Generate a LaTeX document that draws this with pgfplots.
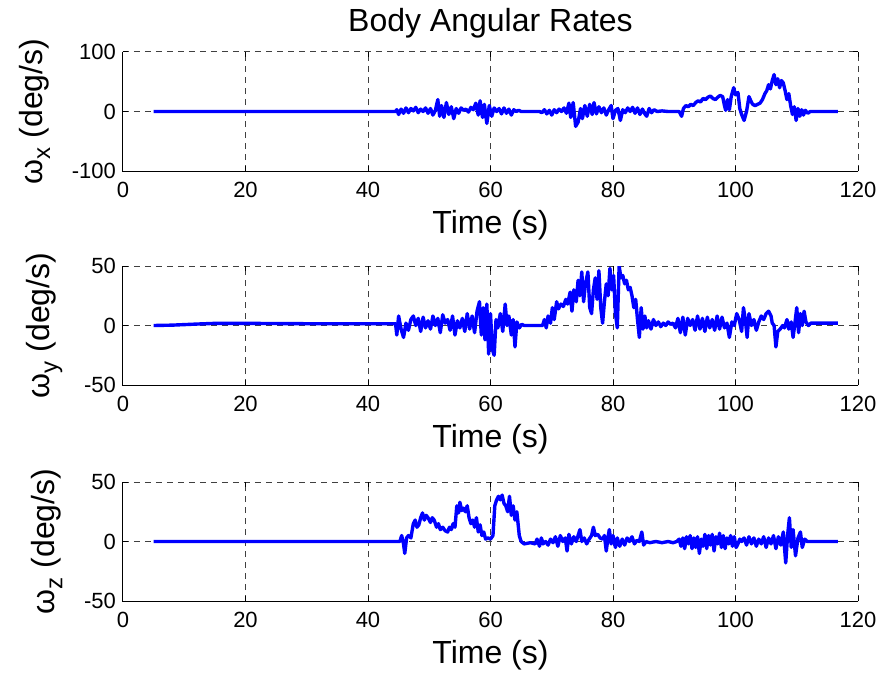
\documentclass[border=0pt]{standalone}
\usepackage{pgfplots}
\pgfplotsset{compat=1.18}
\usepackage{fontspec}
\setmainfont{Liberation Sans}
\pgfplotsset{
  myline/.style={color={rgb,255:red,0;green,0;blue,255}, line width=1.7pt, line join=round, no markers},
  myax/.style={
    scale only axis, width=367.5pt, height=59.5pt,
    xmin=0, xmax=120, xtick={0,20,40,60,80,100,120},
    grid=major,
    major grid style={black!75, dash pattern=on 3pt off 2.5pt, line width=0.5pt},
    tick align=inside, major tick length=2.5pt,
    tick style={black, line width=0.5pt},
    axis line style={draw=none},
    ticklabel style={font=\fontsize{11}{13}\selectfont},
    /pgf/number format/assume math mode=true,
    xlabel={Time (s)},
    every axis x label/.style={at={(0.5,0)}, anchor=base, yshift=-31pt, font=\fontsize{16}{19}\selectfont},
    ylabel style={font=\fontsize{16}{19}\selectfont, yshift=4pt},
    xticklabel style={anchor=base, yshift=-13pt},
    after end axis/.code={\draw[black, line width=0.5pt] (rel axis cs:0,1) -- (rel axis cs:0,0) -- (rel axis cs:1,0);},
  }
}
\begin{document}
\begin{tikzpicture}
\begin{axis}[myax, at={(0,0)}, anchor=north west,
  ymin=-100, ymax=100, ytick={-100,0,100},
  ylabel={ω\raisebox{-4pt}{\fontsize{12}{14}\selectfont x} (deg/s)},
  title={Body Angular Rates},
  every axis title/.style={at={(0.5,1)}, anchor=base, yshift=10.2pt, font=\fontsize{16}{19}\selectfont}]
\addplot[myline] coordinates {
(5,0)(44.5,0)(44.7,3)(45,-5)(45.4,4)(45.8,-3)(46.2,6)(46.6,-2)(47,5)(47.4,1)(47.8,7)(48.2,-2)(48.6,4)(49,0)(49.4,6)(49.8,-3)(50.2,5)(50.6,-6)(51,2)(51.4,20)(51.7,-8)(52,10)(52.4,-10)(52.8,15)(53.2,-5)(53.6,8)(54,-12)(54.4,5)(54.8,-3)(55.2,6)(55.6,2)(56,4)(56.4,-1)(56.8,7)(57.2,3)(57.6,14)(58,-6)(58.3,18)(58.7,-10)(59,12)(59.4,-20)(59.8,10)(60.2,-8)(60.6,6)(61,0)(61.4,5)(61.8,-4)(62.2,6)(62.6,-3)(63,4)(63.4,-6)(63.8,3)(64.2,0)(64.6,2)(65,0)(68,0)(68.4,-2)(68.8,3)(69.2,-4)(69.6,2)(70,-6)(70.4,3)(70.8,-2)(71.2,4)(71.6,0)(72,6)(72.4,-3)(72.8,14)(73.1,-10)(73.5,15)(73.9,-25)(74.3,-18)(74.7,5)(75,-12)(75.4,10)(75.8,-8)(76.2,12)(76.6,-5)(76.9,15)(77.3,-4)(77.7,8)(78.1,-2)(78.5,6)(78.9,-6)(79.3,3)(79.7,10)(80,-12)(80.4,2)(80.8,5)(81.2,-15)(81.6,3)(82,-2)(82.4,6)(82.8,0)(83.2,7)(83.6,-3)(84,6)(84.4,-5)(84.8,4)(85.2,-4)(85.5,-8)(85.9,5)(86.3,-2)(86.7,3)(87.2,0)(88,1)(89,0)(90,0)(90.8,0)(91.2,-8)(91.5,5)(91.9,10)(92.3,8)(92.7,12)(93.1,10)(93.5,15)(93.9,18)(94.3,16)(94.7,22)(95.1,20)(95.5,24)(95.9,26)(96.3,22)(96.7,20)(97.1,24)(97.5,27)(97.9,25)(98.2,10)(98.4,2)(98.7,20)(99,3)(99.3,25)(99.7,40)(100,28)(100.4,32)(100.7,5)(101,-5)(101.4,-15)(101.8,0)(102.2,25)(102.5,18)(102.8,12)(103.2,10)(103.6,12)(104,14)(104.4,20)(104.8,30)(105.1,35)(105.4,45)(105.7,38)(106,52)(106.3,62)(106.6,45)(106.9,55)(107.2,40)(107.5,52)(107.8,48)(108.1,35)(108.4,20)(108.7,30)(109,10)(109.3,-5)(109.6,8)(109.9,-15)(110.2,5)(110.5,-8)(110.8,3)(111.1,-6)(111.4,2)(111.8,-3)(112.2,0)(116.7,0)
};
\end{axis}
\begin{axis}[myax, at={(0,-107pt)}, anchor=north west,
  ymin=-50, ymax=50, ytick={-50,0,50},
  ylabel={ω\raisebox{-4pt}{\fontsize{12}{14}\selectfont y} (deg/s)}]
\addplot[myline] coordinates {
(5,0)(8,0.3)(12,1.2)(15,1.8)(20,1.8)(30,1.5)(40,1.5)(44.5,1.5)(44.7,-8)(45,8)(45.4,-3)(45.8,-10)(46.2,2)(46.6,-4)(47,5)(47.4,8)(47.8,0)(48.2,6)(48.6,-5)(49,7)(49.4,-2)(49.8,4)(50.2,-3)(50.6,8)(51,0)(51.4,6)(51.8,-6)(52.2,9)(52.6,2)(53,5)(53.4,-4)(53.8,8)(54.2,-8)(54.6,4)(55,-2)(55.4,6)(55.8,-5)(56.2,10)(56.6,-3)(57,8)(57.4,-6)(57.8,12)(58.2,20)(58.5,-8)(58.8,15)(59.1,-12)(59.4,18)(59.7,-24)(60,10)(60.3,-20)(60.6,-25)(60.9,5)(61.2,-2)(61.6,10)(62,-5)(62.4,18)(62.7,0)(63,8)(63.4,-8)(63.7,5)(64,-18)(64.3,3)(64.7,-2)(65.1,1)(65.5,0)(68.5,0)(68.8,5)(69.1,-2)(69.4,8)(69.8,2)(70.1,15)(70.4,5)(70.8,20)(71.1,14)(71.5,18)(71.9,16)(72.3,22)(72.6,18)(73,28)(73.3,12)(73.6,30)(74,20)(74.3,38)(74.6,25)(74.9,45)(75.2,20)(75.5,35)(75.9,45)(76.2,15)(76.5,10)(76.8,30)(77.1,40)(77.4,22)(77.7,46)(78,15)(78.3,2)(78.6,20)(78.9,35)(79.2,25)(79.5,48)(79.8,30)(80.1,42)(80.4,10)(80.7,-2)(81,50)(81.3,40)(81.6,42)(81.9,35)(82.2,38)(82.5,30)(82.8,32)(83.1,25)(83.4,15)(83.7,22)(84,5)(84.3,-10)(84.6,15)(84.9,-3)(85.2,8)(85.5,-2)(85.8,4)(86.2,-3)(86.6,5)(87,0)(87.4,3)(87.8,-1)(88.2,2)(88.6,0)(89,3)(89.4,1)(89.8,2)(90.2,-2)(90.6,6)(91,-6)(91.4,7)(91.8,-8)(92.2,6)(92.6,0)(93,5)(93.4,-4)(93.8,8)(94.2,-3)(94.6,6)(95,-5)(95.4,7)(95.8,-2)(96.2,5)(96.6,-4)(97,8)(97.4,-3)(97.8,7)(98.2,-2)(98.6,2)(99,-10)(99.4,3)(99.8,0)(100.2,10)(100.6,5)(101,-5)(101.3,15)(101.6,5)(101.9,-10)(102.2,10)(102.6,0)(103,5)(103.4,-4)(103.8,3)(104.2,8)(104.6,5)(105,10)(105.4,12)(105.8,8)(106,2)(106.3,0)(106.6,-18)(106.9,-5)(107.3,-3)(107.7,0)(108,-2)(108.4,5)(108.7,-3)(109.1,3)(109.4,-10)(109.7,2)(110,15)(110.3,-6)(110.6,10)(110.9,0)(111.2,12)(111.5,3)(111.9,0)(112.3,2)(116.7,2)
};
\end{axis}
\begin{axis}[myax, at={(0,-215pt)}, anchor=north west,
  ymin=-50, ymax=50, ytick={-50,0,50},
  ylabel={ω\raisebox{-4pt}{\fontsize{12}{14}\selectfont z} (deg/s)}]
\addplot[myline] coordinates {
(5,0)(44.7,0)(45.2,0)(45.5,5)(45.8,-2)(46,-10)(46.3,3)(46.6,5)(47,3)(47.4,15)(47.7,18)(48,12)(48.3,14)(48.6,20)(48.9,24)(49.2,18)(49.5,22)(49.8,20)(50.2,16)(50.5,20)(50.8,18)(51.2,12)(51.5,15)(51.8,10)(52.2,12)(52.6,9)(53,8)(53.3,12)(53.6,10)(53.9,15)(54.2,12)(54.5,30)(54.8,24)(55,33)(55.3,26)(55.6,28)(55.9,25)(56.2,30)(56.5,20)(56.8,15)(57.1,18)(57.4,12)(57.7,20)(58,8)(58.3,14)(58.6,5)(58.9,8)(59.2,2)(59.6,3)(60,2)(60.4,5)(60.7,30)(61,35)(61.3,38)(61.6,35)(61.9,39)(62.2,32)(62.5,30)(62.8,25)(63.1,38)(63.4,22)(63.7,30)(64,18)(64.3,25)(64.7,5)(65,0)(65.5,-2)(66.5,-1)(67.3,-2)(67.6,2)(68,-4)(68.3,3)(68.6,-2)(69,0)(69.4,-3)(69.8,2)(70.2,-1)(70.6,4)(71,-4)(71.4,5)(71.8,0)(72.2,3)(72.5,-8)(72.8,6)(73.2,-2)(73.6,4)(74,0)(74.3,5)(74.6,10)(74.9,0)(75.3,3)(75.7,-2)(76.1,2)(76.5,5)(76.8,12)(77.1,5)(77.5,6)(77.9,3)(78.3,2)(78.6,5)(78.9,-8)(79.2,4)(79.4,10)(79.7,-2)(80,5)(80.4,-5)(80.7,3)(81.1,-4)(81.5,2)(81.9,-3)(82.3,3)(82.7,0)(83.1,4)(83.5,-2)(83.9,1)(84.3,0)(84.7,8)(85,-3)(85.4,0)(86,-1)(87,0)(88,-1)(89,0)(89.8,-1)(90.4,0)(90.8,2)(91.1,-4)(91.4,3)(91.7,-6)(92,4)(92.3,-2)(92.6,5)(92.9,-6)(93.2,3)(93.5,-5)(93.8,4)(94.1,-10)(94.4,2)(94.7,-4)(95,6)(95.3,-6)(95.6,5)(95.9,-3)(96.2,6)(96.5,-8)(96.8,4)(97.1,-2)(97.4,7)(97.7,-5)(98,5)(98.3,-6)(98.6,3)(98.9,-2)(99.2,5)(99.5,-4)(99.8,4)(100.1,-5)(100.4,-2)(100.7,2)(101,0)(101.4,3)(101.8,-3)(102.2,4)(102.6,-2)(103,3)(103.4,-4)(103.8,2)(104.2,-2)(104.6,4)(105,-5)(105.4,3)(105.8,-2)(106.2,5)(106.6,-6)(107,4)(107.4,-3)(107.8,8)(108.2,-18)(108.5,5)(108.8,20)(109.1,-5)(109.4,10)(109.8,-12)(110.2,3)(110.6,8)(110.9,-5)(111.3,2)(111.7,0)(116.7,0)
};
\end{axis}
\pgfresetboundingbox
\useasboundingbox (-61.5pt,26pt) rectangle (382.5pt,-311pt);
\end{tikzpicture}
\end{document}
